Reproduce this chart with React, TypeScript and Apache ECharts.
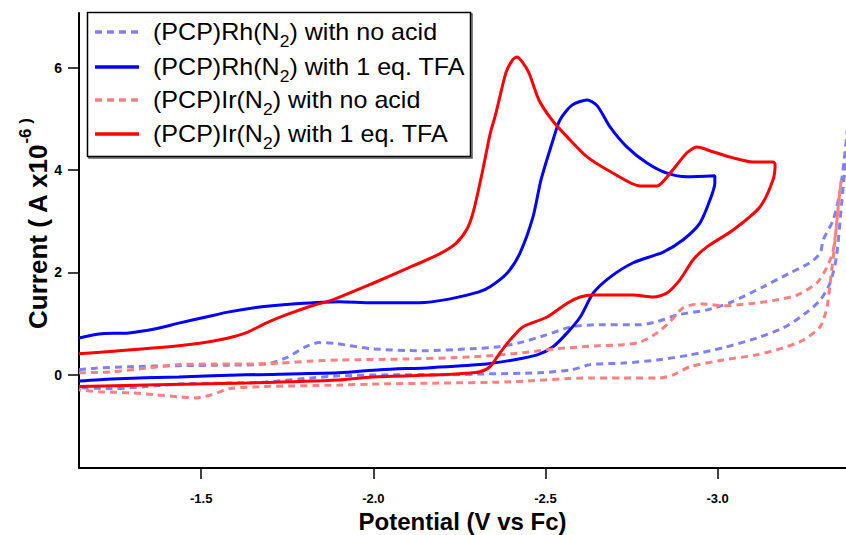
import React, { useEffect, useRef } from "react";
import * as echarts from "echarts";

// Potential (V vs Fc), Current (A x10^-6) pairs
const rhNoAcid: [number, number][] = [
  [-1.145, 0.10], [-1.194, 0.13], [-1.290, 0.16], [-1.435, 0.18], [-1.581, 0.19], [-1.688, 0.21],
  [-1.746, 0.33], [-1.804, 0.55], [-1.842, 0.63], [-1.892, 0.61], [-1.996, 0.51], [-2.141, 0.47],
  [-2.286, 0.51], [-2.365, 0.55], [-2.432, 0.64], [-2.502, 0.78], [-2.577, 0.94], [-2.656, 0.98],
  [-2.775, 0.98], [-2.824, 1.04], [-2.882, 1.17], [-2.969, 1.27], [-3.036, 1.41], [-3.132, 1.72],
  [-3.210, 1.99], [-3.268, 2.19], [-3.298, 2.38], [-3.307, 2.64], [-3.336, 3.03], [-3.356, 3.60],
  [-3.371, 4.40], [-3.380, 5.00],
  [-3.368, 3.90], [-3.361, 3.40], [-3.345, 2.30], [-3.327, 1.80], [-3.298, 1.46], [-3.249, 1.17],
  [-3.191, 0.92], [-3.114, 0.72], [-3.016, 0.53], [-2.920, 0.39], [-2.824, 0.29], [-2.726, 0.23],
  [-2.630, 0.20], [-2.577, 0.10], [-2.481, 0.04], [-2.336, 0.02], [-2.191, 0.00], [-2.046, 0.00],
  [-1.900, -0.02], [-1.822, -0.06], [-1.688, -0.14], [-1.581, -0.16], [-1.435, -0.18], [-1.339, -0.23],
  [-1.241, -0.27], [-1.145, -0.25],
];

const rhTfa: [number, number][] = [
  [-1.145, 0.72], [-1.203, 0.80], [-1.290, 0.82], [-1.368, 0.90], [-1.435, 1.01], [-1.514, 1.13],
  [-1.581, 1.23], [-1.676, 1.33], [-1.775, 1.39], [-1.900, 1.43], [-1.996, 1.41], [-2.133, 1.41],
  [-2.220, 1.48], [-2.307, 1.62], [-2.339, 1.72], [-2.389, 1.99], [-2.426, 2.38], [-2.464, 3.09],
  [-2.487, 3.81], [-2.522, 4.59], [-2.542, 4.98], [-2.577, 5.27], [-2.621, 5.37], [-2.650, 5.26],
  [-2.688, 4.84], [-2.737, 4.45], [-2.795, 4.14], [-2.853, 3.94], [-2.911, 3.87], [-2.992, 3.89],
  [-2.992, 3.75], [-2.978, 3.42], [-2.949, 2.97], [-2.900, 2.64], [-2.842, 2.40], [-2.755, 2.19],
  [-2.688, 1.91], [-2.639, 1.60], [-2.601, 1.13], [-2.563, 0.82], [-2.522, 0.55], [-2.476, 0.39],
  [-2.406, 0.29], [-2.310, 0.20], [-2.165, 0.14], [-2.020, 0.10], [-1.900, 0.04], [-1.630, 0.00],
  [-1.435, -0.04], [-1.241, -0.08], [-1.145, -0.12],
];

const irNoAcid: [number, number][] = [
  [-1.145, 0.04], [-1.241, 0.06], [-1.339, 0.13], [-1.435, 0.20], [-1.531, 0.21], [-1.630, 0.21],
  [-1.726, 0.23], [-1.822, 0.27], [-1.900, 0.29], [-2.095, 0.31], [-2.286, 0.35], [-2.432, 0.43],
  [-2.531, 0.51], [-2.656, 0.57], [-2.726, 0.59], [-2.775, 0.64], [-2.824, 0.82], [-2.862, 1.04],
  [-2.900, 1.31], [-2.949, 1.39], [-3.016, 1.35], [-3.094, 1.39], [-3.161, 1.45], [-3.231, 1.56],
  [-3.289, 1.80], [-3.318, 2.11], [-3.336, 2.44], [-3.351, 3.30], [-3.359, 3.80],
  [-3.352, 3.40], [-3.345, 2.90], [-3.336, 2.30], [-3.327, 1.80], [-3.318, 1.33], [-3.298, 0.94],
  [-3.249, 0.68], [-3.191, 0.53], [-3.114, 0.39], [-3.016, 0.29], [-2.920, 0.16], [-2.871, 0.00],
  [-2.833, -0.06], [-2.726, -0.06], [-2.630, -0.06], [-2.385, -0.14], [-2.191, -0.16], [-1.996, -0.18],
  [-1.900, -0.20], [-1.676, -0.23], [-1.581, -0.27], [-1.531, -0.39], [-1.484, -0.45], [-1.435, -0.43],
  [-1.368, -0.39], [-1.290, -0.35], [-1.203, -0.33], [-1.145, -0.29],
];

const irTfa: [number, number][] = [
  [-1.145, 0.41], [-1.435, 0.57], [-1.551, 0.68], [-1.630, 0.82], [-1.688, 1.01], [-1.746, 1.17],
  [-1.822, 1.35], [-1.880, 1.46], [-1.996, 1.78], [-2.095, 2.07], [-2.191, 2.36], [-2.240, 2.57],
  [-2.272, 2.85], [-2.291, 3.20], [-2.316, 3.94], [-2.339, 4.70], [-2.356, 5.11], [-2.385, 5.90],
  [-2.404, 6.15], [-2.417, 6.21], [-2.432, 6.12], [-2.452, 5.90], [-2.481, 5.37], [-2.519, 4.98],
  [-2.563, 4.65], [-2.621, 4.26], [-2.697, 3.94], [-2.775, 3.69], [-2.824, 3.69], [-2.862, 3.94],
  [-2.911, 4.34], [-2.940, 4.45], [-2.986, 4.36], [-3.045, 4.24], [-3.103, 4.16], [-3.161, 4.16],
  [-3.167, 4.12],
  [-3.161, 3.81], [-3.123, 3.28], [-3.045, 2.83], [-2.969, 2.50], [-2.929, 2.25], [-2.891, 1.86],
  [-2.853, 1.60], [-2.813, 1.52], [-2.755, 1.56], [-2.639, 1.56], [-2.601, 1.52], [-2.563, 1.40],
  [-2.505, 1.13], [-2.435, 0.94], [-2.397, 0.68], [-2.368, 0.43], [-2.339, 0.16], [-2.310, 0.06],
  [-2.269, 0.03], [-2.191, 0.00], [-1.996, -0.04], [-1.900, -0.10], [-1.630, -0.16], [-1.339, -0.20],
  [-1.145, -0.23],
];

const xTicks = [-1.5, -2.0, -2.5, -3.0];
const yTicks = [0, 2, 4, 6];

const seriesNames = [
  "(PCP)Rh(N2) with no acid",
  "(PCP)Rh(N2) with 1 eq. TFA",
  "(PCP)Ir(N2) with no acid",
  "(PCP)Ir(N2) with 1 eq. TFA",
];
const legendRich = [
  "{a|(PCP)Rh(N}{s|2}{a|) with no acid}",
  "{a|(PCP)Rh(N}{s|2}{a|) with 1 eq. TFA}",
  "{a|(PCP)Ir(N}{s|2}{a|) with no acid}",
  "{a|(PCP)Ir(N}{s|2}{a|) with 1 eq. TFA}",
];
const seriesColors = ["#8080ff", "#0000ff", "#ff8080", "#ff0000"];
const seriesDashed = [true, false, true, false];
const seriesData = [rhNoAcid, rhTfa, irNoAcid, irTfa];

const FONT = '"Liberation Sans", Arial, Helvetica, sans-serif';
const NARROW = '"Liberation Sans Narrow", "Arial Narrow", "Liberation Sans", Arial, sans-serif';
const DASH = [7, 5];

export default function App() {
  const ref = useRef<HTMLDivElement>(null);
  useEffect(() => {
    if (!ref.current) return;
    const chart = echarts.init(ref.current, null, { renderer: "svg" });

    const legendTop = [32, 67, 100, 134];
    const legendGraphics: any[] = [
      {
        type: "rect",
        shape: { x: 89, y: 14, width: 383, height: 144 },
        style: { fill: "none", stroke: "#555", lineWidth: 1.5 },
        z: 99,
      },
      {
        type: "rect",
        shape: { x: 87.5, y: 12.5, width: 383, height: 144 },
        style: { fill: "#fff", stroke: "#000", lineWidth: 1.5 },
        z: 100,
      },
    ];
    seriesNames.forEach((_, i) => {
      legendGraphics.push({
        type: "line",
        shape: { x1: 95, y1: legendTop[i], x2: 139, y2: legendTop[i] },
        style: {
          stroke: seriesColors[i],
          lineWidth: 3.5,
          lineDash: seriesDashed[i] ? DASH : null,
        },
        z: 101,
      });
      legendGraphics.push({
        type: "text",
        x: 153,
        y: legendTop[i] + 3,
        scaleX: 1.09,
        style: {
          text: legendRich[i],
          align: "left",
          verticalAlign: "middle",
          fill: "#000",
          rich: {
            a: { fontSize: 23, fontFamily: FONT, lineHeight: 23, verticalAlign: "top", fill: "#000" },
            s: {
              fontSize: 16,
              fontFamily: FONT,
              lineHeight: 29,
              verticalAlign: "bottom",
              fill: "#000",
            },
          },
        },
        z: 101,
      });
    });

    legendGraphics.push({
      type: "text",
      x: 34,
      y: 224,
      rotation: Math.PI / 2,
      style: {
        text: "{a|Current ( A x10}{b|-6 )}",
        align: "center",
        verticalAlign: "middle",
        fill: "#000",
        rich: {
          a: { fontSize: 26, fontWeight: "bold", fontFamily: FONT, lineHeight: 34, verticalAlign: "bottom", fill: "#000" },
          b: { fontSize: 17, fontWeight: "bold", fontFamily: FONT, lineHeight: 17, verticalAlign: "top", fill: "#000" },
        },
      },
    });

    chart.setOption({
      animation: false,
      backgroundColor: "#fff",
      grid: { left: 79, right: 0, top: 13, bottom: 67, containLabel: false, outerBoundsMode: "none" },
      xAxis: {
        type: "value",
        inverse: true,
        min: -3.373,
        max: -1.145,
        name: "Potential (V vs Fc)",
        nameLocation: "middle",
        nameGap: 36,
        nameTextStyle: { fontSize: 24, fontWeight: "bold", fontFamily: FONT, color: "#000" },
        axisLine: { show: true, onZero: false, lineStyle: { color: "#000", width: 2 } },
        axisTick: { show: true, inside: false, length: 11, customValues: xTicks, lineStyle: { color: "#000", width: 1.5 } },
        axisLabel: {
          customValues: xTicks,
          margin: 24,
          fontSize: 13,
          fontWeight: "bold",
          fontFamily: NARROW,
          color: "#000",
          formatter: (v: number) => v.toFixed(1),
        },
        splitLine: { show: false },
      },
      yAxis: {
        type: "value",
        min: -1.82,
        max: 7.07,
        axisLine: { show: true, onZero: false, lineStyle: { color: "#000", width: 2 } },
        axisTick: { show: true, inside: false, length: 11, customValues: yTicks, lineStyle: { color: "#000", width: 1.5 } },
        axisLabel: {
          customValues: yTicks,
          margin: 17,
          fontSize: 14,
          fontWeight: "bold",
          fontFamily: NARROW,
          color: "#000",
        },
        splitLine: { show: false },
      },
      graphic: legendGraphics,
      series: seriesNames.map((name, i) => ({
        name,
        type: "line",
        data: seriesData[i],
        showSymbol: false,
        symbol: "none",
        smooth: 0.25,
        clip: true,
        silent: true,
        lineStyle: {
          color: seriesColors[i],
          width: 3,
          type: seriesDashed[i] ? DASH : "solid",
        },
        z: 2 + i,
      })),
    });
    return () => chart.dispose();
  }, []);
  return (
    <div
      ref={ref}
      style={{ position: "fixed", left: 0, top: 0, width: 846, height: 535 }}
    />
  );
}
